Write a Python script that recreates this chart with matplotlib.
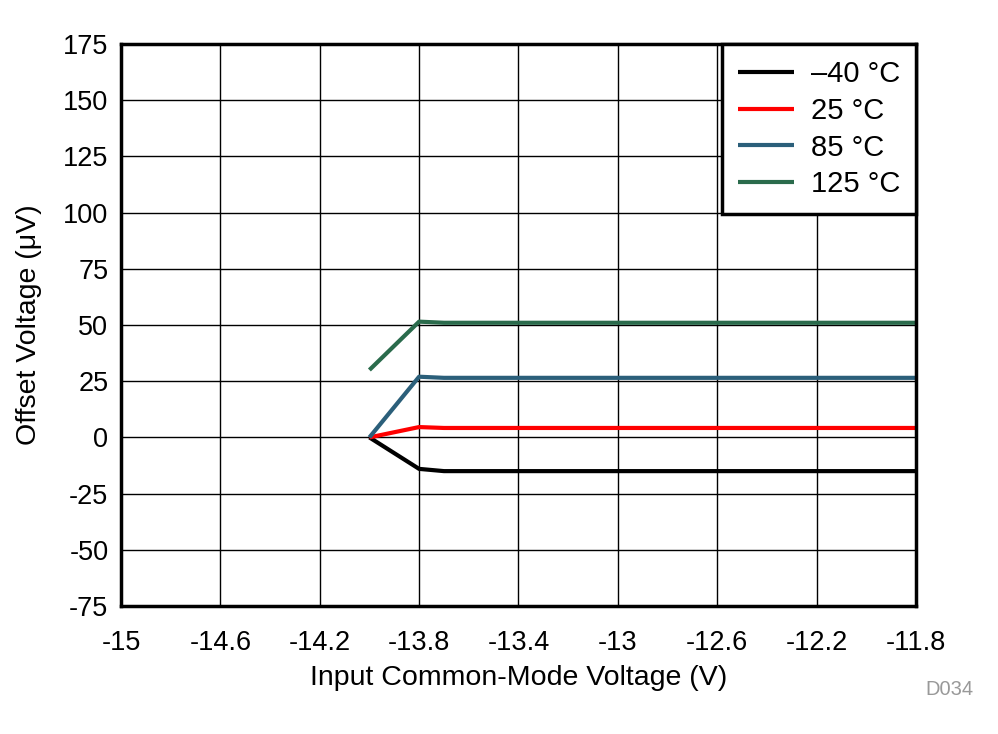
import numpy as np
import matplotlib
matplotlib.use('Agg')
import matplotlib.pyplot as plt

plt.rcParams['font.family'] = ['Liberation Sans', 'DejaVu Sans']
plt.rcParams['axes.unicode_minus'] = False

# data
vcm = [-14.0, -13.8, -13.7, -11.8]
vos_m40 = [0.0, -14.0, -15.0, -15.0]
vos_25 = [0.0, 4.6, 4.2, 4.2]
vos_85 = [0.0, 27.0, 26.5, 26.5]
vos_125 = [30.0, 51.5, 51.0, 51.0]

labels = ['\u201340 \u00b0C', '25 \u00b0C', '85 \u00b0C', '125 \u00b0C']
colors = ['black', '#ff0000', '#2b5f7a', '#2a6b4c']
xticks = np.arange(-15, -11.79, 0.4)
yticks = np.arange(-75, 176, 25)

fig = plt.figure(figsize=(9.98, 7.34), dpi=100)
ax = fig.add_axes([0.1212, 0.1744, 0.7966, 0.7656])

for y, lab, c in zip([vos_m40, vos_25, vos_85, vos_125], labels, colors):
    ax.plot(vcm, y, color=c, lw=3, label=lab, solid_capstyle='butt')

ax.set_xlim(-15, -11.8)
ax.set_ylim(-75, 175)
ax.set_xticks(xticks)
ax.set_xticklabels(['%g' % round(t, 1) for t in xticks])
ax.set_yticks(yticks)
ax.grid(True, color='black', lw=1)
ax.tick_params(length=0, labelsize=19.5)
ax.tick_params(axis='x', pad=17)
ax.tick_params(axis='y', pad=9)
for s in ax.spines.values():
    s.set_linewidth(2.5)

ax.set_xlabel('Input Common-Mode Voltage (V)', fontsize=20.5, labelpad=7)
ax.set_ylabel('Offset Voltage (\u03bcV)', fontsize=20.5, labelpad=15)

leg = ax.legend(loc='upper right', bbox_to_anchor=(1, 1), borderaxespad=0,
                fontsize=21, fancybox=False, framealpha=1, handlelength=1.9,
                labelspacing=0.3, borderpad=0.55, handletextpad=0.58)
leg.get_frame().set_edgecolor('black')
leg.get_frame().set_linewidth(2.5)

fig.text(0.975, 0.06, 'D034', color='#999999', fontsize=14.5, ha='right', va='center')

fig.savefig('out.png', dpi=100)
